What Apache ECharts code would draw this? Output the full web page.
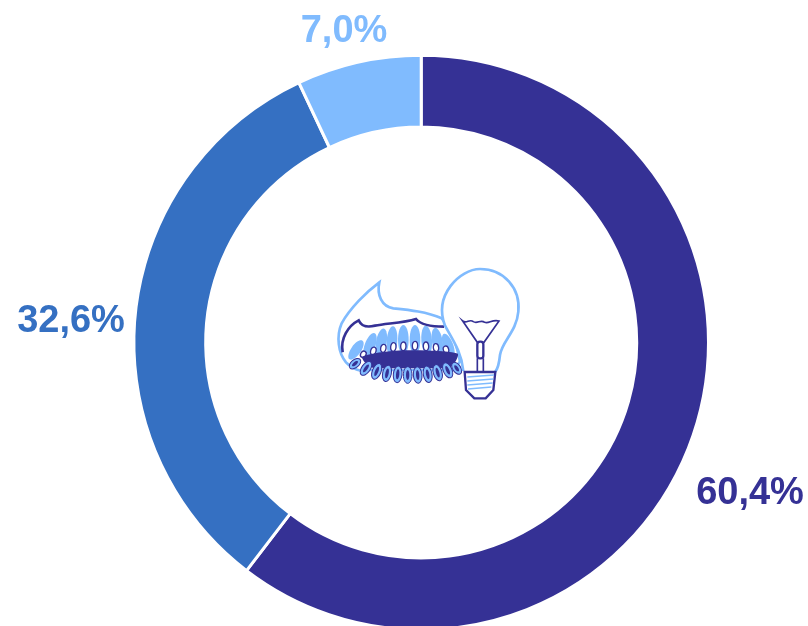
<!DOCTYPE html>
<html><head><meta charset="utf-8">
<style>html,body{margin:0;padding:0;background:#fff}#c{width:808px;height:626px}</style>
<script src="https://cdn.jsdelivr.net/npm/echarts@6/dist/echarts.min.js"></script>
</head><body><div id="c"></div>
<script>
const values=[60.4,32.6,7.0];
const labels=['60,4%','32,6%','7,0%'];
const colors=['#353195','#3570C2','#80BBFE'];
const DARK=colors[0], LIGHT=colors[2];
const FONT='bold 38px "Liberation Sans"';
// Icon decoration, in 3x icon coordinates: [x, y, rx, ry, rotation in degrees]
const upperFlames=[[108,285,15,34,-35],[150,272,16,40,-20],[184,262,16,42,-10],[216,258,16,44,-4],[250,254,16,44,0],[285,254,16,44,0],[320,256,16,44,4],[352,260,16,42,10],[385,272,15,38,20]];
const upperHoles=[[130,298,8,10,-30],[160,288,8,12,-15],[190,280,8,12,-8],[220,276,8,13,-4],[250,274,8,13,0],[285,272,8,13,0],[318,274,8,13,4],[348,278,8,12,8],[378,284,8,11,15]];
const lowerFlames=[[105,326,12,20,-50],[138,340,13,24,-35],[170,349,13,25,-22],[201,355,13,25,-12],[233,358,13,25,-6],[263,360,13,25,0],[293,360,13,25,4],[323,358,13,25,10],[353,353,13,25,16],[383,346,13,24,24],[410,340,12,20,34]];
const lowerHoles=[[105,326,5,11,-50],[138,340,5,14,-35],[170,349,5,15,-22],[201,355,5,15,-12],[233,358,5,15,-6],[263,360,5,15,0],[293,360,5,15,4],[323,358,5,15,10],[353,353,5,15,16],[383,346,5,14,24],[410,340,5,11,34]];
const threads=[[442,366,522,360],[442,378,520,372],[442,390,518,384],[444,402,514,396]];
let pathCount=0;
function pathEl(d,style){
  const name='iconPath'+(pathCount++);
  echarts.graphic.registerShape(name,echarts.graphic.extendPath(d));
  return {type:name,style:style};
}
function ellipses(list,style){
  return list.map(e=>({type:'ellipse',x:e[0],y:e[1],rotation:e[4]*Math.PI/180,
    shape:{cx:0,cy:0,rx:e[2],ry:e[3]},style:style}));
}
const iconChildren=[
  pathEl('M178,82 C140,110 90,160 65,205 C48,245 55,295 78,322 C100,345 125,350 140,345 L400,345 L420,320 C410,265 395,225 365,190 C320,170 270,165 220,160 C185,155 170,120 178,82 Z',{fill:'#fff',stroke:LIGHT,lineWidth:8}),
  ...ellipses(upperFlames,{fill:LIGHT}),
  ...ellipses(upperHoles,{fill:'#fff',stroke:DARK,lineWidth:4}),
  pathEl('M125,305 C170,288 250,284 300,286 C350,287 395,290 415,296 C412,315 400,335 380,340 L165,340 C145,335 130,322 125,305 Z',{fill:DARK}),
  pathEl('M68,292 C60,250 85,212 116,196 C125,215 140,218 165,212 C200,205 250,204 288,192 C305,212 340,215 372,215',{fill:'none',stroke:DARK,lineWidth:8}),
  ...ellipses(lowerFlames,{fill:LIGHT,stroke:DARK,lineWidth:3}),
  ...ellipses(lowerHoles,{fill:DARK}),
  pathEl('M430,348 C425,290 395,250 375,212 C340,120 420,42 480,42 C552,42 602,100 595,170 C590,230 545,260 540,300 C538,320 536,338 526,350',{fill:'#fff',stroke:LIGHT,lineWidth:8}),
  pathEl('M428,198 C440,208 448,190 460,200 C472,208 482,192 494,202 C506,208 516,192 537,198 L492,262 L472,262 Z',{fill:'none',stroke:DARK,lineWidth:5}),
  {type:'rect',shape:{x:472,y:260,width:18,height:50,r:8},style:{fill:'#fff',stroke:DARK,lineWidth:7}},
  pathEl('M472,310 L472,350 M490,310 L490,350',{fill:'none',stroke:DARK,lineWidth:5}),
  pathEl('M434,351 L526,351 L520,405 L497,430 L463,430 L438,405 Z',{fill:'#fff',stroke:DARK,lineWidth:7}),
  ...threads.map(t=>({type:'line',shape:{x1:t[0],y1:t[1],x2:t[2],y2:t[3]},style:{stroke:LIGHT,lineWidth:5}}))
];
const chart=echarts.init(document.getElementById('c'),null,{renderer:'canvas'});
chart.setOption({
  animation:false,
  series:[{type:'pie',center:[421.2,342.5],radius:[215.5,287.3],startAngle:90,clockwise:true,
    itemStyle:{borderColor:'#fff',borderWidth:3},
    label:{show:false},labelLine:{show:false},silent:true,
    data:values.map((v,i)=>({value:v,name:labels[i],itemStyle:{color:colors[i]}}))}],
  graphic:[
    {type:'text',style:{text:labels[0],x:750,y:494,align:'center',verticalAlign:'middle',fill:colors[0],font:FONT}},
    {type:'text',style:{text:labels[1],x:71,y:322,align:'center',verticalAlign:'middle',fill:colors[1],font:FONT}},
    {type:'text',style:{text:labels[2],x:344,y:32,align:'center',verticalAlign:'middle',fill:colors[2],font:FONT}},
    {type:'group',x:320,y:255,scaleX:1/3,scaleY:1/3,children:iconChildren}
  ]
});
</script></body></html>
